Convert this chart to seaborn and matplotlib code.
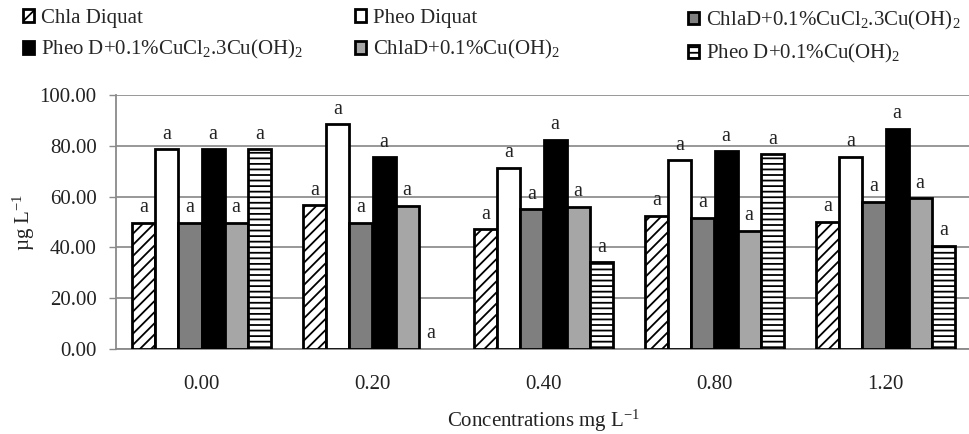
import pandas as pd
import seaborn as sns
import matplotlib.pyplot as plt
import matplotlib.patches as mpatches

# data
concentrations = ['0.00', '0.20', '0.40', '0.80', '1.20']
treatments = ['Chla Diquat', 'Pheo Diquat', 'ChlaD+0.1%CuCl$_2$.3Cu(OH)$_2$',
              'Pheo D+0.1%CuCl$_2$.3Cu(OH)$_2$', 'ChlaD+0.1%Cu(OH)$_2$',
              'Pheo D+0.1%Cu(OH)$_2$']
chla_diquat = [49.7, 56.6, 47.1, 52.5, 50.0]
pheo_diquat = [78.6, 88.5, 71.4, 74.3, 75.7]
chla_cucl2 = [49.7, 49.7, 55.0, 51.6, 57.9]
pheo_cucl2 = [78.6, 75.5, 82.3, 77.9, 86.7]
chla_cuoh2 = [49.7, 56.3, 56.0, 46.6, 59.3]
pheo_cuoh2 = [78.6, 0.0, 34.1, 76.6, 40.7]
letters = ['a'] * 5

series = [chla_diquat, pheo_diquat, chla_cucl2, pheo_cucl2, chla_cuoh2, pheo_cuoh2]
rows = []
for name, vals in zip(treatments, series):
    for c, v in zip(concentrations, vals):
        rows.append({'conc': c, 'treat': name, 'value': v})
df = pd.DataFrame(rows)

sns.set_style('white')
plt.rcParams['font.family'] = ['Liberation Serif', 'DejaVu Serif']
plt.rcParams['mathtext.default'] = 'regular'
plt.rcParams['hatch.linewidth'] = 1.3

faces = ['white', 'white', '#7f7f7f', 'black', '#a6a6a6', 'white']
hatches = ['///', '', '', '', '', '---']

fig = plt.figure(figsize=(9.69, 4.34), dpi=100)
ax = fig.add_axes([116 / 969, 1 - 349 / 434, 855 / 969, 254 / 434])

sns.barplot(data=df, x='conc', y='value', hue='treat', hue_order=treatments,
            palette=faces, saturation=1, edgecolor='black', linewidth=2,
            width=0.81, gap=0, legend=False, ax=ax, zorder=3)

for cont, h in zip(ax.containers, hatches):
    for bar in cont:
        if h:
            bar.set_hatch(h)
        if bar.get_height() == 0:
            bar.set_linewidth(0)
    ax.bar_label(cont, labels=letters, padding=4, fontsize=14.5, color='#222222')

ax.set_ylim(0, 100)
ax.set_xlim(-0.5, 4.5)
ax.set_yticks([0, 20, 40, 60, 80, 100])
ax.set_yticklabels([f'{t:.2f}' for t in [0, 20, 40, 60, 80, 100]])
ax.grid(axis='y', color='#909090', linewidth=1.3, zorder=0)
ax.set_axisbelow(True)
for s in ['top', 'right']:
    ax.spines[s].set_visible(False)
for s in ['left', 'bottom']:
    ax.spines[s].set_color('#8a8a8a')
    ax.spines[s].set_linewidth(1.3)

ax.set_xticks([-0.5, 0.5, 1.5, 2.5, 3.5], minor=True)
ax.tick_params(axis='x', which='major', length=0, pad=19, labelsize=15, labelcolor='#222222')
ax.tick_params(axis='x', which='minor', length=5, width=1, color='#8a8a8a', direction='out')
ax.tick_params(axis='y', length=5, width=1, color='#8a8a8a', direction='out', pad=9,
               labelsize=15, labelcolor='#222222', left=True)

ax.set_xlabel('Concentrations mg L$^{-1}$', fontsize=15, labelpad=10, color='#222222')
ax.set_ylabel('µg L$^{-1}$', fontsize=15, labelpad=2, color='#222222')

# legend: three columns placed like the original
handles = []
for f, h in zip(faces, hatches):
    handles.append(mpatches.Patch(facecolor=f, edgecolor='black', linewidth=2, hatch=h))
cols = [(0, 3, 23), (1, 4, 355), (2, 5, 688)]
for i, j, x in cols:
    fig.legend([handles[i], handles[j]], [treatments[i], treatments[j]],
               loc='upper left', bbox_to_anchor=(x / 969, 1 - 9 / 434),
               frameon=False, borderpad=0, borderaxespad=0, fontsize=15,
               handlelength=0.55, handleheight=0.55, handletextpad=0.3,
               labelspacing=0.5)

fig.savefig('out.png', dpi=100)
